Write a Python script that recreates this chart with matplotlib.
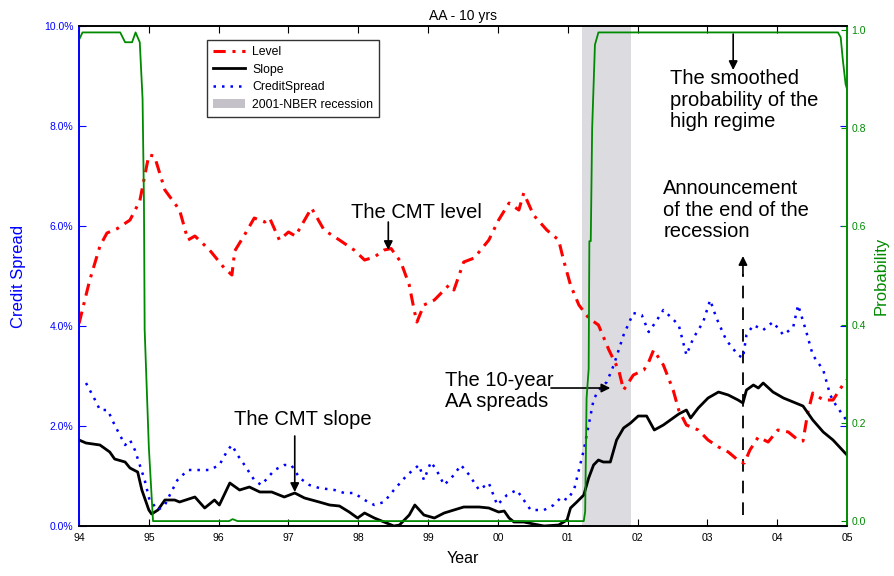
import matplotlib
matplotlib.use("Agg")
import matplotlib.pyplot as plt
from matplotlib.patches import Patch
from matplotlib.lines import Line2D

plt.rcParams['font.family'] = ['Liberation Sans', 'DejaVu Sans']

# ---------------- data ----------------
level_x = [1994.0, 1994.15, 1994.3, 1994.4, 1994.55, 1994.73, 1994.87, 1995.0, 1995.08, 1995.23, 1995.44,
           1995.56, 1995.66, 1995.87, 1996.08, 1996.19, 1996.23, 1996.37, 1996.51, 1996.66, 1996.73,
           1996.87, 1997.0, 1997.1, 1997.19, 1997.33, 1997.51, 1997.73, 1997.94, 1998.09, 1998.23,
           1998.37, 1998.47, 1998.61, 1998.73, 1998.8, 1998.84, 1998.94, 1999.09, 1999.3, 1999.37,
           1999.51, 1999.66, 1999.87, 2000.01, 2000.16, 2000.3, 2000.37, 2000.51, 2000.7, 2000.87,
           2000.94, 2001.04, 2001.16, 2001.3, 2001.44, 2001.59, 2001.73, 2001.8, 2001.94, 2002.09,
           2002.16, 2002.23, 2002.37, 2002.51, 2002.59, 2002.7, 2002.87, 2003.01, 2003.16, 2003.3,
           2003.47, 2003.53, 2003.61, 2003.73, 2003.87, 2004.01, 2004.16, 2004.3, 2004.37, 2004.44,
           2004.51, 2004.66, 2004.8, 2004.94, 2005.0]
level_y = [4.05, 4.9, 5.6, 5.86, 5.95, 6.12, 6.5, 7.42, 7.4, 6.72, 6.32,
           5.72, 5.8, 5.52, 5.16, 5.02, 5.5, 5.82, 6.16, 6.08, 6.16,
           5.72, 5.88, 5.8, 6.02, 6.36, 5.92, 5.72, 5.52, 5.32, 5.38,
           5.52, 5.55, 5.28, 4.82, 4.32, 4.08, 4.42, 4.52, 4.82, 4.72,
           5.28, 5.36, 5.72, 6.12, 6.46, 6.32, 6.66, 6.22, 5.92, 5.72,
           5.32, 4.82, 4.42, 4.16, 4.02, 3.52, 3.12, 2.72, 3.02, 3.12,
           3.28, 3.52, 3.22, 2.72, 2.32, 2.02, 1.92, 1.72, 1.58, 1.48,
           1.28, 1.26, 1.52, 1.78, 1.68, 1.92, 1.88, 1.72, 1.7, 2.28,
           2.66, 2.52, 2.52, 2.82, 2.92]

slope_x = [1994.0, 1994.1, 1994.3, 1994.44, 1994.51, 1994.66, 1994.73, 1994.84, 1994.9, 1995.0, 1995.04,
           1995.13, 1995.23, 1995.37, 1995.44, 1995.66, 1995.8, 1995.94, 1996.01, 1996.16, 1996.3,
           1996.44, 1996.59, 1996.76, 1996.94, 1997.09, 1997.23, 1997.44, 1997.59, 1997.73, 1997.87,
           1997.99, 1998.09, 1998.23, 1998.37, 1998.51, 1998.59, 1998.73, 1998.81, 1998.94, 1999.09,
           1999.23, 1999.37, 1999.51, 1999.73, 1999.87, 2000.01, 2000.09, 2000.16, 2000.23, 2000.37,
           2000.51, 2000.66, 2000.87, 2000.99, 2001.04, 2001.13, 2001.23, 2001.3, 2001.37, 2001.44,
           2001.51, 2001.61, 2001.7, 2001.8, 2001.9, 2002.01, 2002.13, 2002.24, 2002.37, 2002.47,
           2002.59, 2002.7, 2002.76, 2002.87, 2003.01, 2003.16, 2003.3, 2003.44, 2003.51, 2003.56,
           2003.66, 2003.73, 2003.8, 2003.94, 2004.09, 2004.23, 2004.37, 2004.51, 2004.66, 2004.8,
           2005.0]
slope_y = [1.72, 1.66, 1.62, 1.48, 1.34, 1.28, 1.16, 1.08, 0.72, 0.32, 0.24,
           0.32, 0.52, 0.52, 0.48, 0.58, 0.36, 0.52, 0.42, 0.86, 0.72,
           0.78, 0.68, 0.68, 0.58, 0.66, 0.56, 0.48, 0.42, 0.4, 0.28,
           0.16, 0.26, 0.16, 0.08, 0.0, 0.02, 0.22, 0.42, 0.22, 0.16,
           0.26, 0.32, 0.38, 0.38, 0.36, 0.28, 0.3, 0.16, 0.08, 0.08,
           0.04, 0.0, 0.02, 0.12, 0.36, 0.48, 0.62, 0.96, 1.22, 1.32,
           1.28, 1.28, 1.72, 1.96, 2.06, 2.2, 2.2, 1.92, 2.02, 2.12,
           2.24, 2.32, 2.16, 2.36, 2.56, 2.68, 2.62, 2.52, 2.46, 2.72,
           2.82, 2.76, 2.86, 2.68, 2.56, 2.48, 2.4, 2.12, 1.88, 1.72,
           1.42]

spread_x = [1994.1, 1994.23, 1994.3, 1994.41, 1994.51, 1994.66, 1994.73, 1994.8, 1994.87, 1994.94, 1995.01,
            1995.13, 1995.23, 1995.3, 1995.41, 1995.56, 1995.73, 1995.87, 1996.01, 1996.13, 1996.19,
            1996.27, 1996.37, 1996.51, 1996.61, 1996.7, 1996.8, 1996.94, 1997.04, 1997.16, 1997.3,
            1997.44, 1997.66, 1997.8, 1997.94, 1998.09, 1998.23, 1998.37, 1998.51, 1998.7, 1998.87,
            1998.94, 1999.04, 1999.12, 1999.23, 1999.37, 1999.47, 1999.59, 1999.73, 1999.87, 1999.99,
            2000.13, 2000.27, 2000.37, 2000.47, 2000.66, 2000.8, 2000.91, 2000.99, 2001.09, 2001.16,
            2001.23, 2001.3, 2001.37, 2001.44, 2001.56, 2001.66, 2001.8, 2001.94, 2002.06, 2002.16,
            2002.26, 2002.37, 2002.49, 2002.59, 2002.7, 2002.8, 2002.94, 2003.04, 2003.13, 2003.27,
            2003.44, 2003.51, 2003.56, 2003.66, 2003.8, 2003.94, 2004.09, 2004.23, 2004.3, 2004.41,
            2004.51, 2004.66, 2004.76, 2004.84, 2004.94, 2005.0]
spread_y = [2.86, 2.52, 2.32, 2.32, 2.02, 1.62, 1.72, 1.52, 1.22, 0.92, 0.52,
            0.32, 0.42, 0.62, 0.92, 1.12, 1.12, 1.12, 1.22, 1.52, 1.62,
            1.42, 1.22, 0.92, 0.82, 0.96, 1.12, 1.22, 1.22, 0.96, 0.82,
            0.76, 0.72, 0.66, 0.66, 0.52, 0.42, 0.48, 0.72, 1.02, 1.22,
            0.92, 1.28, 1.12, 0.82, 1.02, 1.22, 1.02, 0.72, 0.86, 0.42,
            0.62, 0.72, 0.52, 0.32, 0.32, 0.42, 0.58, 0.52, 0.72, 1.12,
            1.52, 2.02, 2.52, 2.72, 2.88, 3.22, 3.82, 4.26, 4.22, 3.88,
            4.08, 4.32, 4.16, 4.02, 3.42, 3.76, 4.08, 4.52, 4.16, 3.72,
            3.42, 3.36, 3.82, 4.02, 3.92, 4.08, 3.82, 3.98, 4.42, 3.92,
            3.42, 3.12, 2.62, 2.42, 2.22, 2.1]

prob_x = [1994.0, 1994.05, 1994.59, 1994.66, 1994.76, 1994.81, 1994.87, 1994.91, 1994.93, 1994.94, 1995.0,
          1995.04, 1995.06, 1996.15, 1996.2, 1996.27, 2001.23, 2001.25, 2001.27, 2001.3, 2001.31,
          2001.33, 2001.35, 2001.39, 2001.44, 2004.87, 2004.91, 2004.94, 2004.98, 2005.0]
prob_y = [0.98, 0.995, 0.995, 0.975, 0.975, 0.995, 0.975, 0.86, 0.65, 0.39, 0.15,
          0.05, 0.0, 0.0, 0.004, 0.0, 0.0, 0.02, 0.25, 0.31, 0.57,
          0.57, 0.8, 0.97, 0.995, 0.995, 0.985, 0.94, 0.89, 0.88]

recession = (2001.2, 2001.9)
year_ticks = list(range(1994, 2006))
year_labels = ['94', '95', '96', '97', '98', '99', '00', '01', '02', '03', '04', '05']
spread_ticks = [0, 2, 4, 6, 8, 10]
spread_labels = ['0.0%', '2.0%', '4.0%', '6.0%', '8.0%', '10.0%']
prob_ticks = [0.0, 0.2, 0.4, 0.6, 0.8, 1.0]
prob_labels = ['0.0', '0.2', '0.4', '0.6', '0.8', '1.0']

RED = '#ff0000'
BLUE = '#0000ff'
GREEN = '#008a00'
GRAY = '#dcdbe0'

fig = plt.figure(figsize=(8.94, 5.76), dpi=100)
ax = fig.add_axes([0.0884, 0.0868, 0.859, 0.868])
ax2 = ax.twinx()

ax.axvspan(recession[0], recession[1], color=GRAY, lw=0, zorder=0)
ax.plot(level_x, level_y, color=RED, lw=2.2, linestyle=(0, (4, 2.2, 1, 2.2)), zorder=3)
ax.plot(slope_x, slope_y, color='k', lw=2.0, zorder=3)
ax.plot(spread_x, spread_y, color=BLUE, lw=1.8, linestyle=(0, (1, 2.4)), zorder=3)
ax2.plot(prob_x, prob_y, color=GREEN, lw=1.3)

ax.set_xlim(1994, 2005)
ax.set_ylim(0, 10)
ax2.set_ylim(-0.01, 1.008)

ax.set_xticks(year_ticks)
ax.set_xticklabels(year_labels, fontsize=7.5)
ax.set_yticks(spread_ticks)
ax.set_yticklabels(spread_labels, fontsize=7.5, color=BLUE)
ax2.set_yticks(prob_ticks)
ax2.set_yticklabels(prob_labels, fontsize=7.5, color=GREEN)

ax.tick_params(axis='x', direction='in', length=5, top=True, pad=5, colors='k')
ax.tick_params(axis='y', direction='in', length=5, right=True, colors=BLUE, pad=4)
ax2.tick_params(axis='y', direction='in', length=4, colors=GREEN, pad=3)

for a in (ax, ax2):
    a.spines['left'].set_color(BLUE)
    a.spines['right'].set_color(GREEN)
    a.spines['top'].set_color('k')
    a.spines['bottom'].set_color('k')
    for s in a.spines.values():
        s.set_linewidth(1.2)

ax.set_xlabel('Year', fontsize=11.5, labelpad=6)
ax.set_ylabel('Credit Spread', fontsize=12, color=BLUE, labelpad=13)
ax2.set_ylabel('Probability', fontsize=12, color=GREEN, labelpad=6)
ax.set_title('AA - 10 yrs', fontsize=10, pad=4)

handles = [Line2D([], [], color=RED, lw=2.2, linestyle=(0, (4, 2.2, 1, 2.2))),
           Line2D([], [], color='k', lw=2.0),
           Line2D([], [], color=BLUE, lw=1.8, linestyle=(0, (1, 2.4))),
           Patch(facecolor='#c4c2c8', edgecolor='none')]
leg = ax2.legend(handles, ['Level', 'Slope', 'CreditSpread', '2001-NBER recession'],
                 loc='upper left', bbox_to_anchor=(0.1667, 0.972), borderaxespad=0,
                 fontsize=8.8, frameon=True, fancybox=False, edgecolor='k',
                 handlelength=2.6, handletextpad=0.6, borderpad=0.5, labelspacing=0.45)
leg.get_frame().set_linewidth(1.0)

arrow = dict(arrowstyle='-|>', color='k', lw=1.2, mutation_scale=13, shrinkA=0, shrinkB=0)
fs = 14.5
ls = 1.18
ax.text(1997.9, 6.28, 'The CMT level', fontsize=fs, va='center', ha='left')
ax.annotate('', xy=(1998.43, 5.52), xytext=(1998.43, 6.08), arrowprops=arrow)
ax.text(1996.22, 2.14, 'The CMT slope', fontsize=fs, va='center', ha='left')
ax.annotate('', xy=(1997.09, 0.68), xytext=(1997.09, 1.8), arrowprops=arrow)
ax.text(1999.24, 2.7, 'The 10-year\nAA spreads', fontsize=fs, va='center', ha='left',
        linespacing=ls)
ax.annotate('', xy=(2001.61, 2.76), xytext=(2000.76, 2.76), arrowprops=arrow)
ax.text(2002.47, 8.52, 'The smoothed\nprobability of the\nhigh regime', fontsize=fs,
        va='center', ha='left', linespacing=ls)
ax.annotate('', xy=(2003.37, 9.12), xytext=(2003.37, 9.84), arrowprops=arrow)
ax.text(2002.37, 6.32, 'Announcement\nof the end of the\nrecession', fontsize=fs,
        va='center', ha='left', linespacing=ls)
ax.plot([2003.51, 2003.51], [0.22, 5.05], color='k', lw=1.3, linestyle=(0, (7, 5)))
ax.annotate('', xy=(2003.51, 5.4), xytext=(2003.51, 5.0), arrowprops=arrow)

fig.savefig('out.png', dpi=100)
